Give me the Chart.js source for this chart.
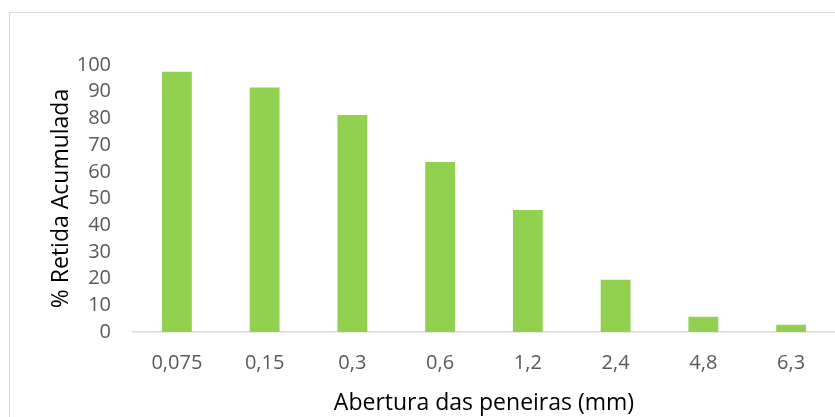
<!DOCTYPE html>
<html>
<head>
<meta charset="utf-8">
<script src="https://cdn.jsdelivr.net/npm/chart.js@4.4.1/dist/chart.umd.min.js"></script>
<style>
  html, body { margin: 0; padding: 0; background: #fff; }
  #wrap { position: relative; width: 835px; height: 417px; overflow: hidden; }
  #frame { position: absolute; left: 9px; top: 12px; width: 900px; height: 500px; border: 1px solid #d9d9d9; box-sizing: border-box; }
  canvas { position: absolute; left: 0; top: 0; }
</style>
</head>
<body>
<div id="wrap">
  <div id="frame"></div>
  <canvas id="chart" width="835" height="417"></canvas>
</div>
<script>
// sieve openings and cumulative retained %
const aberturas = ["0,075", "0,15", "0,3", "0,6", "1,2", "2,4", "4,8", "6,3"];
const retidaAcumulada = [97.5, 91.6, 81.3, 63.7, 45.7, 19.6, 5.7, 2.7];
const yTicks = [0, 10, 20, 30, 40, 50, 60, 70, 80, 90, 100];

const FONT = "'Open Sans', sans-serif";

const ctx = document.getElementById("chart").getContext("2d");
const chart = new Chart(ctx, {
    type: "bar",
    data: {
        labels: aberturas,
        datasets: [{
            label: "% Retida Acumulada",
            data: retidaAcumulada,
            backgroundColor: "#92D050",
            borderWidth: 0,
            barPercentage: 0.68,
            categoryPercentage: 0.5
        }]
    },
    options: {
        responsive: false,
        animation: false,
        layout: { padding: { left: 0, right: 0, top: 65, bottom: 0 } },
        plugins: {
            legend: { display: false },
            tooltip: { enabled: false }
        },
        scales: {
            x: {
                grid: { display: false, drawTicks: false },
                border: { display: true, color: "#d9d9d9", width: 1.5 },
                ticks: {
                    color: "#595959",
                    font: { family: FONT, size: 20 },
                    padding: 19,
                    maxRotation: 0,
                    autoSkip: false
                },
                title: {
                    display: true,
                    text: "Abertura das peneiras (mm)",
                    color: "#000",
                    font: { family: FONT, size: 23 },
                    padding: { top: 0, bottom: 0 }
                },
                afterFit(scale) { scale.height = 85; }
            },
            y: {
                min: 0,
                max: 100,
                afterBuildTicks(scale) {
                    scale.ticks = yTicks.map(v => ({ value: v }));
                },
                grid: { display: false, drawTicks: false },
                border: { display: false },
                ticks: {
                    color: "#595959",
                    font: { family: FONT, size: 20 },
                    padding: 22,
                    autoSkip: false
                },
                title: {
                    display: true,
                    text: "% Retida Acumulada",
                    color: "#000",
                    font: { family: FONT, size: 23 },
                    padding: { top: 48, bottom: 0 }
                },
                afterFit(scale) { scale.width = 133; }
            }
        }
    }
});
</script>
</body>
</html>
